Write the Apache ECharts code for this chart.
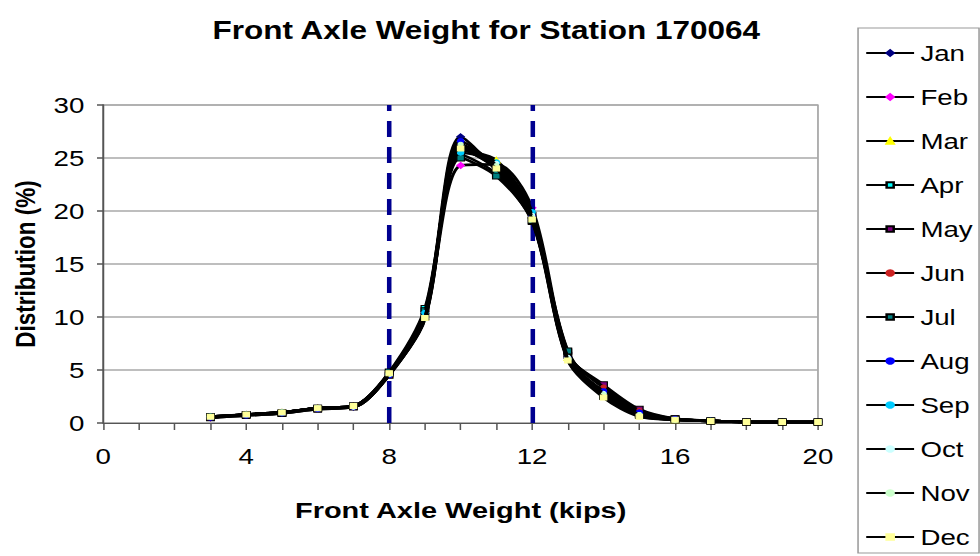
<!DOCTYPE html>
<html><head><meta charset="utf-8">
<script src="https://cdn.jsdelivr.net/npm/echarts@6/dist/echarts.min.js"></script>
<style>
html,body{margin:0;padding:0;background:#fff;overflow:hidden;width:980px;height:556px;}
#c{width:778px;height:556px;transform:scaleX(1.2596);transform-origin:0 0;}
</style>
</head><body><div id="c"></div>
<script>
var weights = [3,4,5,6,7,8,9,10,11,12,13,14,15,16,17,18,19,20];
var months = ['Jan','Feb','Mar','Apr','May','Jun','Jul','Aug','Sep','Oct','Nov','Dec'];
var jan = [0.5,0.8,1.0,1.4,1.5,4.6,10.3,27.0,23.8,19.4,6.3,2.9,0.9,0.4,0.2,0.1,0.1,0.1];
var feb = [0.5,0.8,1.0,1.4,1.6,4.7,10.5,24.3,24.4,20.3,6.6,3.3,1.1,0.4,0.2,0.1,0.1,0.1];
var mar = [0.6,0.8,1.0,1.4,1.6,4.6,10.1,25.7,24.8,19.7,6.2,2.7,0.8,0.3,0.2,0.1,0.1,0.1];
var apr = [0.6,0.8,0.9,1.4,1.6,4.8,10.8,25.3,23.5,19.0,6.7,2.6,0.8,0.4,0.2,0.1,0.1,0.1];
var may = [0.5,0.7,0.9,1.3,1.5,4.5,10.0,26.2,24.1,19.6,6.4,3.6,1.3,0.4,0.2,0.1,0.1,0.1];
var jun = [0.5,0.8,1.0,1.4,1.6,4.6,10.2,25.9,24.0,19.8,6.5,3.4,1.2,0.4,0.2,0.1,0.1,0.1];
var jul = [0.6,0.8,1.0,1.4,1.6,4.7,10.6,25.0,23.3,19.1,6.8,2.5,0.7,0.3,0.2,0.1,0.1,0.1];
var aug = [0.5,0.7,0.9,1.3,1.5,4.5,9.9,26.6,24.2,19.5,6.1,3.0,1.0,0.4,0.2,0.1,0.1,0.1];
var sep = [0.6,0.8,1.0,1.4,1.6,4.6,10.4,25.5,24.6,19.9,6.0,2.6,0.7,0.3,0.2,0.1,0.1,0.1];
var oct = [0.6,0.8,1.0,1.4,1.5,4.6,10.0,26.0,24.5,19.6,6.2,2.8,0.8,0.3,0.2,0.1,0.1,0.1];
var nov = [0.6,0.8,1.0,1.4,1.5,4.6,9.8,26.3,24.3,19.4,6.0,2.7,0.8,0.3,0.2,0.1,0.1,0.1];
var dec = [0.6,0.8,1.0,1.4,1.6,4.7,9.9,25.9,24.0,19.2,5.9,2.4,0.6,0.3,0.2,0.1,0.1,0.1];
var seriesValues = [jan,feb,mar,apr,may,jun,jul,aug,sep,oct,nov,dec];
var limits = [8, 12];
var xTickLabels = [0,4,8,12,16,20];
var yTickLabels = [0,5,10,15,20,25,30];

var markerStyles = [
  {symbol:'diamond', size:6, color:'#000080', border:'#000080'},
  {symbol:'diamond', size:6, color:'#ff00ff', border:'#ff00ff'},
  {symbol:'triangle', size:6, color:'#ffff00', border:'#ffff00'},
  {symbol:'rect', size:6, color:'#00ffff', border:'#000000'},
  {symbol:'rect', size:6, color:'#800080', border:'#000000'},
  {symbol:'circle', size:4, color:'#cc2222', border:'#cc2222'},
  {symbol:'rect', size:6, color:'#008080', border:'#000000'},
  {symbol:'circle', size:5, color:'#0000ff', border:'#0000ff'},
  {symbol:'circle', size:5, color:'#00ccff', border:'#00ccff'},
  {symbol:'circle', size:4, color:'#ccffff', border:'#ccffff'},
  {symbol:'circle', size:4, color:'#ccffcc', border:'#ccffcc'},
  {symbol:'rect', size:5, color:'#ffff99', border:'#ffff99'}
];

var series = months.map(function(m, i){
  var ms = markerStyles[i];
  return {
    name: m, type: 'line', smooth: 0.3,
    data: weights.map(function(w, j){ return [w, seriesValues[i][j]]; }),
    symbol: ms.symbol, symbolSize: ms.size, showAllSymbol: true,
    lineStyle: {color: '#000', width: 2.6},
    itemStyle: {color: ms.color, borderColor: ms.border, borderWidth: 1},
    emphasis: {disabled: true},
    animation: false, z: 2 + i
  };
});
series.push({
  type: 'line', data: [], silent: true, animation: false,
  markLine: {
    symbol: ['none','none'], silent: true, animation: false,
    label: {show: false},
    lineStyle: {color: '#000090', width: 3.6, type: [16, 10]},
    data: limits.map(function(v){ return {xAxis: v}; })
  }
});

var chart = echarts.init(document.getElementById('c'), null, {renderer: 'svg'});
chart.setOption({
  animation: false,
  backgroundColor: '#fff',
  title: {
    text: 'Front Axle Weight for Station 170064', left: 381, top: 13, textAlign: 'center',
    textStyle: {fontFamily: 'Liberation Sans, Arial', fontSize: 25, fontWeight: 'bold', color: '#000'}
  },
  grid: {left: 80.2, right: 128.6, top: 105, bottom: 133, show: true, borderColor: '#999', borderWidth: 1.2, backgroundColor: 'transparent'},
  legend: {
    orient: 'vertical', left: 681.2, top: 28,
    data: months,
    itemWidth: 38, itemHeight: 7, itemGap: 22,
    padding: [14, 5, 5, 5.5],
    borderColor: '#999', borderWidth: 1.2,
    textStyle: {fontFamily: 'Liberation Sans, Arial', fontSize: 22, color: '#000', lineHeight: 22},
    selectedMode: false
  },
  xAxis: {
    type: 'value', min: 0, max: 20, interval: 4,
    name: 'Front Axle Weight (kips)', nameLocation: 'middle', nameGap: 76,
    nameTextStyle: {fontFamily: 'Liberation Sans, Arial', fontSize: 23, fontWeight: 'bold', color: '#000'},
    axisLine: {show: true, lineStyle: {color: '#555', width: 1.2}},
    axisTick: {show: true, length: 7, lineStyle: {color: '#555', width: 1.2}},
    minorTick: {show: true, splitNumber: 4, length: 7, lineStyle: {color: '#555', width: 1.2}},
    splitLine: {show: false},
    axisLabel: {margin: 22, fontFamily: 'Liberation Sans, Arial', fontSize: 22, color: '#000',
      formatter: function(v){ return xTickLabels.indexOf(v) >= 0 ? String(v) : ''; }}
  },
  yAxis: {
    type: 'value', min: 0, max: 30, interval: 5,
    name: 'Distribution (%)', nameLocation: 'middle', nameGap: 51,
    nameTextStyle: {fontFamily: 'Liberation Sans, Arial', fontSize: 22.5, fontWeight: 'bold', color: '#000'},
    axisLine: {show: true, lineStyle: {color: '#555', width: 1.5}},
    axisTick: {show: true, inside: false, length: 5, lineStyle: {color: '#555', width: 1.5}},
    splitLine: {show: true, lineStyle: {color: '#a8a8a8', width: 1.5}},
    axisLabel: {margin: 15, fontFamily: 'Liberation Sans, Arial', fontSize: 22, color: '#000',
      formatter: function(v){ return yTickLabels.indexOf(v) >= 0 ? String(v) : ''; }}
  },
  series: series
});
</script>
</body></html>
